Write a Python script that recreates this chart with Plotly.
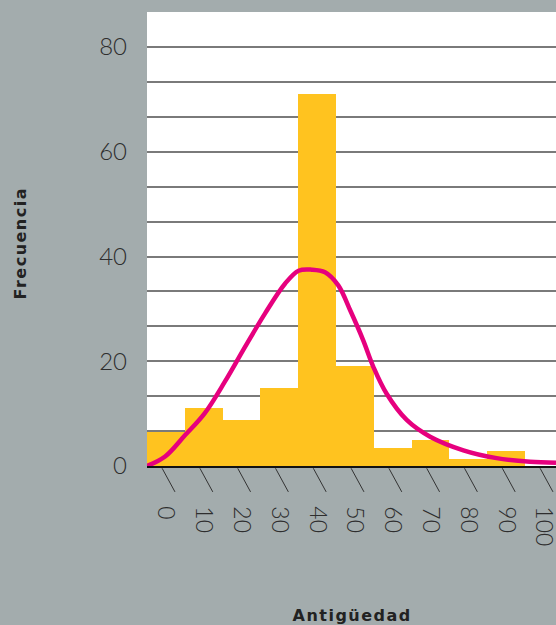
import plotly.graph_objects as go

# Data
bin_left = [0, 10, 20, 30, 40, 50, 60, 70, 80, 90, 100]
bin_labels = ["0", "10", "20", "30", "40", "50", "60", "70", "80", "90", "100"]
frequency = [6.5, 11.0, 8.8, 14.9, 71.0, 19.1, 3.5, 5.0, 1.4, 2.9, 0.0]

curve_x = [0, 4.8, 10.1, 15.3, 20.6, 25.9, 31.2, 36.5, 40.1, 43.6, 47.1, 50.6,
           53.9, 57.2, 59.9, 63.4, 68.7, 74.9, 83.7, 92.5, 101.3, 108.2]
curve_y = [0.0, 1.8, 5.9, 10.1, 16.1, 22.7, 29.1, 34.8, 37.3, 37.5, 37.0, 34.5,
           29.5, 24.0, 18.9, 13.8, 8.8, 5.6, 3.0, 1.5, 0.8, 0.6]

y_ticks = [0, 20, 40, 60, 80]

BG = "#A3ACAD"
BAR = "#FFC31F"
PINK = "#E6007E"
GRID = "#7A7A7A"
TXT = "#2E2E2E"

bin_width = bin_left[1] - bin_left[0]
centers = [b + bin_width / 2 for b in bin_left]

fig = go.Figure()
fig.add_trace(go.Bar(x=bin_left, y=frequency, width=bin_width, offset=0,
                     marker=dict(color=BAR, line=dict(width=0)), showlegend=False))
fig.add_trace(go.Scatter(x=curve_x, y=curve_y, mode="lines",
                         line=dict(color=PINK, width=4.5, shape="spline", smoothing=1.0),
                         showlegend=False))

# grid every 20/3, labels every 20
step = y_ticks[1] / 3
grid_vals = [i * step for i in range(14)]
grid_text = [str(int(round(v))) if int(round(v)) in y_ticks and abs(v - round(v)) < 1e-6 else "" for v in grid_vals]

# diagonal tick marks below each category
for c in centers:
    fig.add_shape(type="line", xref="x", yref="paper",
                  x0=c - 1.0, x1=c + 2.4, y0=-0.005, y1=-0.057,
                  line=dict(color="#333333", width=1))

fig.update_layout(
    width=556, height=625,
    paper_bgcolor=BG, plot_bgcolor="white",
    margin=dict(l=147, r=0, t=12, b=159, autoexpand=False),
    bargap=0,
    xaxis=dict(range=[0, 108.2], tickvals=centers, ticktext=bin_labels,
               tickangle=90, showgrid=False, zeroline=False, ticks="",
               ticklabelstandoff=34, ticklabeloverflow="allow", automargin=False,
               showline=True, linecolor="#111111", linewidth=1.5,
               layer="below traces",
               tickfont=dict(family="Lato", size=23, color=TXT, weight=300)),
    yaxis=dict(range=[0, 86.7], tickvals=grid_vals, ticktext=grid_text,
               showgrid=True, gridcolor=GRID, gridwidth=1.5, zeroline=False,
               ticks="", ticklabelstandoff=19, automargin=False,
               tickfont=dict(family="Lato", size=24, color=TXT, weight=300)),
    annotations=[
        dict(text="<b>Frecuencia</b>", xref="paper", yref="paper", x=0, y=0.5,
             xanchor="center", yanchor="middle", xshift=-127, yshift=-4, textangle=-90,
             showarrow=False, font=dict(family="DejaVu Sans", size=16, color="#222222")),
        dict(text="<b>Antigüedad</b>", xref="paper", yref="paper", x=0.5, y=0,
             xanchor="center", yanchor="middle", yshift=-149,
             showarrow=False, font=dict(family="DejaVu Sans", size=16, color="#222222")),
    ],
)

post = (
    "document.body.style.margin='0';document.body.style.padding='0';"
    "document.querySelectorAll('.annotation-text').forEach(function(e){"
    "e.style.letterSpacing='1.5px';});"
)

fig.write_html("out.html", post_script=post, config={"displayModeBar": False})
